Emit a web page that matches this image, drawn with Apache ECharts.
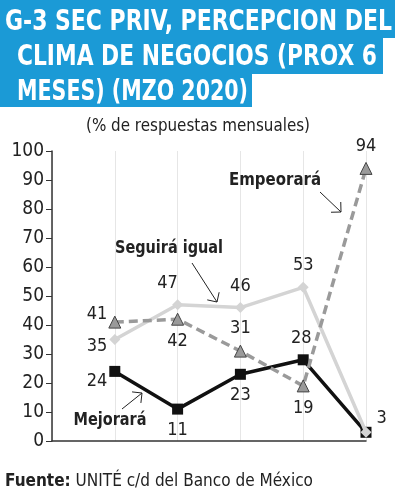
<!DOCTYPE html>
<html><head><meta charset="utf-8">
<script src="https://cdn.jsdelivr.net/npm/echarts@6/dist/echarts.min.js"></script>
<style>html,body{margin:0;padding:0;background:#fff}#c{width:395px;height:500px}</style>
</head><body><div id="c"></div>
<script>
const categories = [1, 2, 3, 4, 5];
const mejorara = [24, 11, 23, 28, 3];
const seguira = [35, 47, 46, 53, 3];
const empeorara = [41, 42, 31, 19, 94];
const yTicks = [0, 10, 20, 30, 40, 50, 60, 70, 80, 90, 100];

const FONT = '"Liberation Sans Narrow","DejaVu Sans Condensed",sans-serif';
const chart = echarts.init(document.getElementById('c'), null, {renderer: 'canvas'});

const mctx = document.createElement('canvas').getContext('2d');
function fit(text, font, w) {
  mctx.font = font;
  return w / mctx.measureText(text).width;
}

function items(vals, pos, offs, show) {
  return vals.map((v, i) => ({
    value: [categories[i], v],
    label: {show: show ? show[i] : true, position: pos[i], offset: offs[i]}
  }));
}

const lbl = {fontFamily: FONT, fontSize: 18, color: '#222', distance: 7};

function arrow(x1, y1, x2, y2) {
  const a = Math.atan2(y2 - y1, x2 - x1);
  const L = 10, s = Math.PI * 0.25;
  const p1 = [x2 - L * Math.cos(a - s), y2 - L * Math.sin(a - s)];
  const p2 = [x2 - L * Math.cos(a + s), y2 - L * Math.sin(a + s)];
  return [
    {type: 'line', shape: {x1, y1, x2, y2}, style: {stroke: '#222', lineWidth: 1}, z: 100},
    {type: 'polyline', shape: {points: [p1, [x2, y2], p2]}, style: {stroke: '#222', lineWidth: 1, fill: null}, z: 100}
  ];
}

function txt(text, font, x, y, w, align, extra) {
  return Object.assign({
    type: 'text', x, y, scaleX: fit(text, font, w), z: 100,
    style: {text, font, fill: '#222', textAlign: align, textVerticalAlign: 'middle'}
  }, extra || {});
}

const titleFont = 'bold 29px ' + FONT;
const t1 = 'G-3 SEC PRIV, PERCEPCION DEL', t2 = 'CLIMA DE NEGOCIOS (PROX 6', t3 = 'MESES) (MZO 2020)';
const sub = '(% de respuestas mensuales)';
const subFont = '18px ' + FONT, bFont = 'bold 18px ' + FONT;
mctx.font = bFont; const fw1 = mctx.measureText('Fuente:').width;
mctx.font = subFont; const fw2 = mctx.measureText(' UNITÉ c/d del Banco de México').width;
const footScale = 308 / (fw1 + fw2);

const option = {
  animation: false,
  grid: {left: 52, right: 29, top: 151, bottom: 59},
  xAxis: {
    type: 'value', min: 0, max: 5, interval: 1,
    axisLine: {show: true, lineStyle: {color: '#333', width: 1.5}},
    axisTick: {show: false}, axisLabel: {show: false},
    splitLine: {show: true, lineStyle: {color: '#e6e6e6', width: 1}}
  },
  yAxis: {
    type: 'value', min: 0, max: 100, interval: 10,
    axisLine: {show: true, lineStyle: {color: '#333', width: 1.5}},
    axisTick: {show: true, inside: false, length: 6, lineStyle: {color: '#333'}},
    axisLabel: {fontFamily: FONT, fontSize: 19, color: '#222', margin: 8,
      formatter: v => yTicks.includes(v) ? String(v) : ''},
    splitLine: {show: false}
  },
  series: [
    {
      name: 'Mejorará', type: 'line', z: 3,
      data: items(mejorara, ['left', 'bottom', 'bottom', 'top', 'right'],
        [[5, 10], [0, 0], [0, 0], [-2, 0], [0, 0]], [true, true, true, true, false]),
      symbol: 'rect', symbolSize: 11,
      lineStyle: {color: '#111', width: 3.5}, itemStyle: {color: '#111'},
      label: lbl
    },
    {
      name: 'Seguirá igual', type: 'line', z: 4,
      data: items(seguira, ['left', 'top', 'top', 'top', 'right'],
        [[5, 7], [-10, 0], [0, 0], [0, 0], [-2, -14]]),
      symbol: 'diamond', symbolSize: 11,
      lineStyle: {color: '#d4d4d4', width: 3.5}, itemStyle: {color: '#d4d4d4'},
      label: lbl
    },
    {
      name: 'Empeorará', type: 'line', z: 5,
      data: items(empeorara, ['left', 'bottom', 'top', 'bottom', 'top'],
        [[6, -8], [0, 0], [0, 0], [0, 0], [0, 0]]),
      symbol: 'triangle', symbolSize: 12,
      lineStyle: {color: '#9a9a9a', width: 3.5, type: [9, 5]},
      itemStyle: {color: '#9a9a9a', borderColor: '#444', borderWidth: 1},
      label: lbl
    }
  ],
  graphic: [
    {type: 'rect', shape: {x: 0, y: 0, width: 395, height: 38}, style: {fill: '#1b9ad6'}, z: 1},
    {type: 'rect', shape: {x: 0, y: 37, width: 383, height: 37}, style: {fill: '#1b9ad6'}, z: 1},
    {type: 'rect', shape: {x: 0, y: 73, width: 252, height: 34}, style: {fill: '#1b9ad6'}, z: 1},
    txt(t1, titleFont, 5, 22, 387, 'left', {style: {text: t1, font: titleFont, fill: '#fff', textVerticalAlign: 'middle'}}),
    txt(t2, titleFont, 17, 57, 360, 'left', {style: {text: t2, font: titleFont, fill: '#fff', textVerticalAlign: 'middle'}}),
    txt(t3, titleFont, 17, 92, 231, 'left', {style: {text: t3, font: titleFont, fill: '#fff', textVerticalAlign: 'middle'}}),
    txt(sub, subFont, 198, 126, 224, 'center'),
    {type: 'text', x: 5, y: 481, scaleX: footScale, style: {
      text: '{b|Fuente:} UNITÉ c/d del Banco de México', font: subFont, fill: '#222', textVerticalAlign: 'middle',
      rich: {b: {font: bFont, fill: '#222'}}}},
    txt('Mejorará', bFont, 110, 420, 73, 'center'),
    txt('Seguirá igual', bFont, 169, 248, 108, 'center'),
    txt('Empeorará', bFont, 275, 180, 92, 'center'),
    ...arrow(122, 409, 142, 393),
    ...arrow(192, 263, 217, 302),
    ...arrow(320, 192, 341, 212)
  ]
};
chart.setOption(option);
</script></body></html>
